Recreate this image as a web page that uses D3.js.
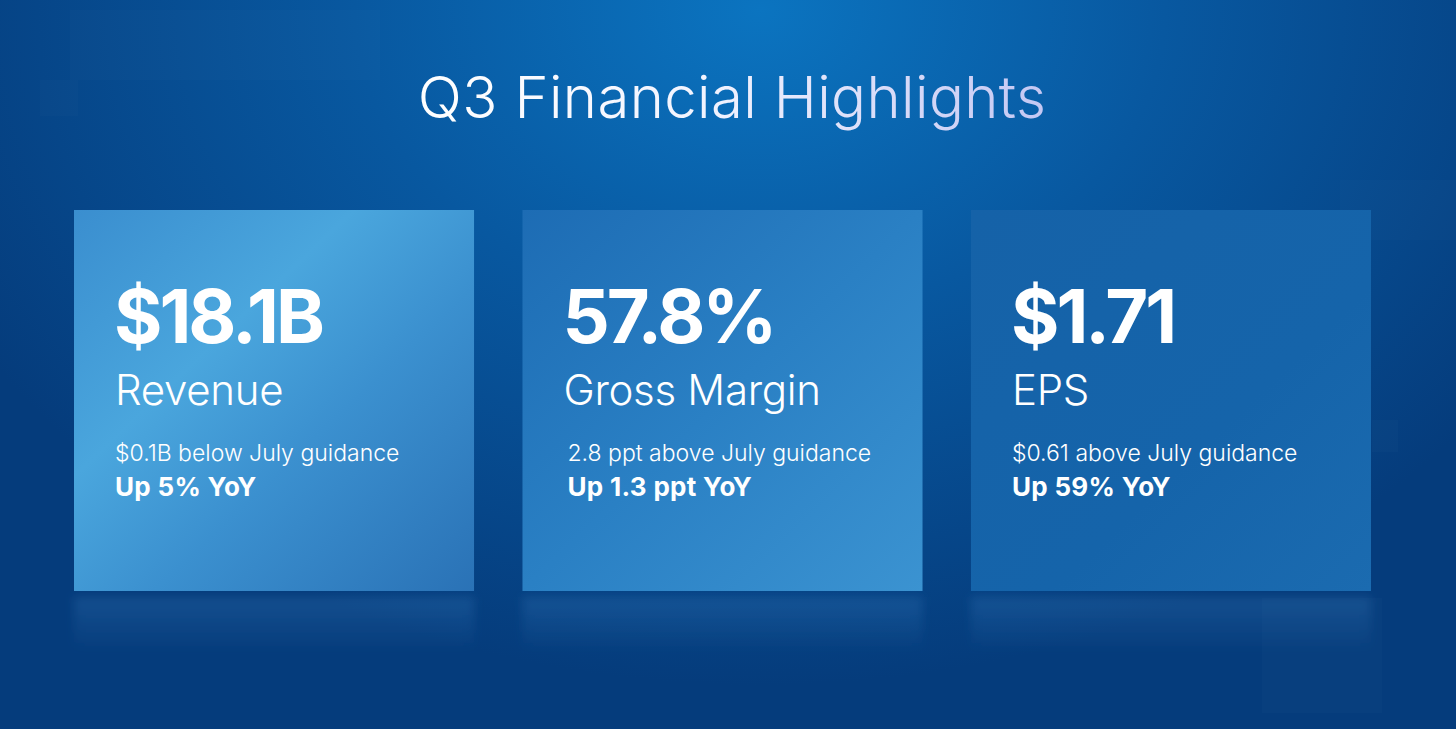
<!DOCTYPE html>
<html>
<head>
<meta charset="utf-8">
<script src="https://cdn.jsdelivr.net/npm/d3@7"></script>
<style>
  html, body { margin: 0; padding: 0; background: #0a4a8e; overflow: hidden; }
  svg { display: block; }
</style>
</head>
<body>
<div id="chart"></div>
<script>
const categories = ["Revenue", "Gross Margin", "EPS"];
const values = ["$18.1B", "57.8%", "$1.71"];
const guidance = ["$0.1B below July guidance", "2.8 ppt above July guidance", "$0.61 above July guidance"];
const yoy = ["Up 5% YoY", "Up 1.3 ppt YoY", "Up 59% YoY"];
const title = "Q3 Financial Highlights";

const width = 1456;
const height = 729;
const font = "Inter, 'Open Sans', sans-serif";

const svg = d3.select("#chart")
    .append("svg")
    .attr("width", width)
    .attr("height", height);

const defs = svg.append("defs");

// background glow, brighter at top centre
const bg = defs.append("radialGradient")
    .attr("id", "bg")
    .attr("gradientUnits", "userSpaceOnUse")
    .attr("cx", 760).attr("cy", 10).attr("r", 900)
    .attr("gradientTransform", "translate(760,10) scale(1,0.75) translate(-760,-10)");
bg.append("stop").attr("offset", 0).attr("stop-color", "#0b74c0");
bg.append("stop").attr("offset", 0.45).attr("stop-color", "#0858a0");
bg.append("stop").attr("offset", 1).attr("stop-color", "#053c7c");

const titleGrad = defs.append("linearGradient")
    .attr("id", "titleGrad")
    .attr("gradientUnits", "userSpaceOnUse")
    .attr("x1", 416).attr("x2", 1048).attr("y1", 0).attr("y2", 0);
titleGrad.append("stop").attr("offset", 0).attr("stop-color", "#ffffff");
titleGrad.append("stop").attr("offset", 0.45).attr("stop-color", "#f2f4ff");
titleGrad.append("stop").attr("offset", 1).attr("stop-color", "#c3c7f3");

// one gradient per card
const cardStops = [
    [[0, "#3a8ecf"], [0.35, "#4aa6dd"], [0.6, "#3b90cf"], [1, "#2a72b6"]],
    [[0, "#1d6cb4"], [0.5, "#2a80c4"], [1, "#3b93d1"]],
    [[0, "#1562a8"], [0.6, "#1564aa"], [1, "#1b6bb0"]]
];
cardStops.forEach((stops, i) => {
    const g = defs.append("linearGradient")
        .attr("id", "card" + i)
        .attr("x1", 0).attr("y1", 0).attr("x2", 1).attr("y2", 1);
    stops.forEach(s => g.append("stop").attr("offset", s[0]).attr("stop-color", s[1]));
});

const refl = defs.append("linearGradient")
    .attr("id", "refl")
    .attr("x1", 0).attr("y1", 0).attr("x2", 0).attr("y2", 1);
refl.append("stop").attr("offset", 0).attr("stop-color", "#4a90d0").attr("stop-opacity", 0.22);
refl.append("stop").attr("offset", 1).attr("stop-color", "#4a90d0").attr("stop-opacity", 0);

defs.append("filter").attr("id", "blur")
    .append("feGaussianBlur").attr("stdDeviation", 5);

svg.append("rect")
    .attr("width", width)
    .attr("height", height)
    .attr("fill", "url(#bg)");

// faint squares in the background
const squares = [[40, 80, 38, 36], [1262, 598, 120, 115], [1372, 420, 26, 32], [1340, 180, 116, 60], [70, 10, 310, 70]];
svg.selectAll(".sq")
    .data(squares)
    .join("rect")
    .attr("class", "sq")
    .attr("x", d => d[0]).attr("y", d => d[1])
    .attr("width", d => d[2]).attr("height", d => d[3])
    .attr("fill", "#ffffff")
    .attr("opacity", 0.015);

svg.append("text")
    .attr("x", 732)
    .attr("y", 118)
    .attr("text-anchor", "middle")
    .attr("font-family", font)
    .attr("font-weight", 300)
    .attr("font-size", 58)
    .attr("letter-spacing", 0.4)
    .attr("fill", "url(#titleGrad)")
    .text(title);

const x = d3.scaleBand()
    .domain(categories)
    .range([74, 1371])
    .paddingInner(0.108);

const cardTop = 210;
const cardH = 381;

const cards = svg.selectAll(".card")
    .data(categories)
    .join("g")
    .attr("class", "card")
    .attr("transform", d => `translate(${x(d)},${cardTop})`);

cards.append("rect")
    .attr("y", cardH + 6)
    .attr("width", x.bandwidth())
    .attr("height", 55)
    .attr("fill", "url(#refl)")
    .attr("filter", "url(#blur)");

cards.append("rect")
    .attr("width", x.bandwidth())
    .attr("height", cardH)
    .attr("fill", (d, i) => `url(#card${i})`);

cards.append("text")
    .attr("x", 40)
    .attr("y", 133)
    .attr("font-family", font)
    .attr("font-weight", 700)
    .attr("font-size", 74)
    .attr("letter-spacing", -3)
    .attr("fill", "#ffffff")
    .text((d, i) => values[i]);

cards.append("text")
    .attr("x", 41)
    .attr("y", 195)
    .attr("font-family", font)
    .attr("font-weight", 300)
    .attr("font-size", 42)
    .attr("letter-spacing", -0.3)
    .attr("fill", "#ffffff")
    .text(d => d);

cards.append("text")
    .attr("x", (d, i) => i === 1 ? 45 : 41)
    .attr("y", 251)
    .attr("font-family", font)
    .attr("font-weight", 300)
    .attr("font-size", 23)
    .attr("letter-spacing", 0)
    .attr("fill", "#ffffff")
    .text((d, i) => guidance[i]);

cards.append("text")
    .attr("x", (d, i) => i === 1 ? 45 : 41)
    .attr("y", 286)
    .attr("font-family", font)
    .attr("font-weight", 700)
    .attr("font-size", 26)
    .attr("letter-spacing", 0.3)
    .attr("fill", "#ffffff")
    .text((d, i) => yoy[i]);
</script>
</body>
</html>
